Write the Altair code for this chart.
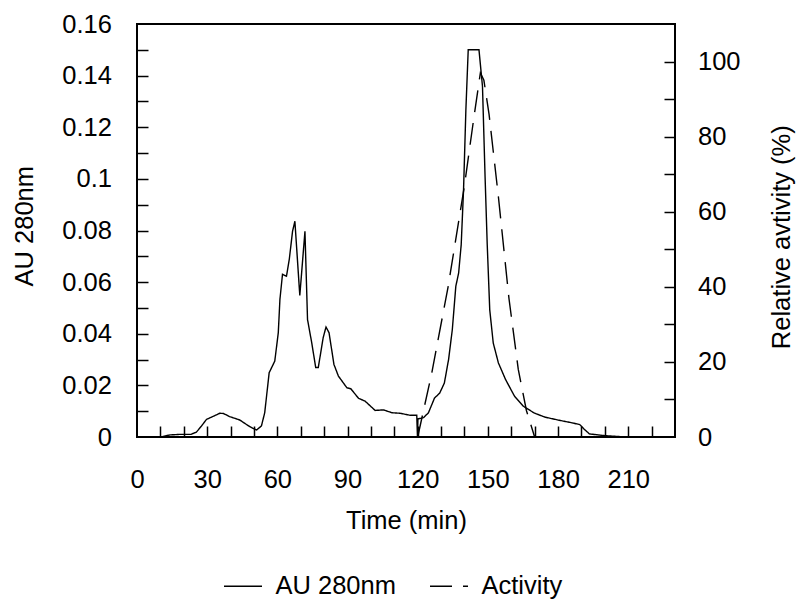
import altair as alt
import pandas as pd

# ---------------- data ----------------
au_time = [10, 14, 18, 23, 25.4, 27.6, 29.7, 32.8, 35.4, 37, 39.6, 43.9, 48.2, 51.1, 53.2,
           54.6, 56.5, 58.9, 60.4, 61.1, 62.2, 63.9, 65.1, 66.5, 67.5, 69.6, 71.8, 72.9,
           74.7, 76.4, 77.5, 79.6, 80.8, 82.1, 84.2, 86.1, 89.7, 91.4, 94.7, 97.5, 101.8,
           105.4, 109, 112.5, 116.8, 119.6, 119.9, 120.1, 122.5, 124.6, 127.2, 129.4,
           131.4, 133.2, 134.8, 136.3, 137.5, 138.6, 139.6, 140.6, 141.6, 146.2, 147.7,
           148.8, 149.7, 150.8, 152.3, 154.5, 157.6, 161.4, 165.2, 169.8, 174.4, 180.4,
           186.5, 189.3, 191.1, 193.4, 200.2, 209.4]
au_value = [0.0, 0.0008, 0.001, 0.001, 0.0019, 0.0043, 0.0068, 0.0081, 0.0092, 0.0091,
            0.0079, 0.0066, 0.0040, 0.0027, 0.0043, 0.0094, 0.0249, 0.0294, 0.0404, 0.0533,
            0.0630, 0.0623, 0.0688, 0.0797, 0.0836, 0.0548, 0.0797, 0.0455, 0.0365, 0.0269,
            0.0269, 0.0385, 0.0426, 0.0404, 0.0281, 0.0236, 0.0191, 0.0187, 0.0150, 0.0139,
            0.0103, 0.0105, 0.0094, 0.0092, 0.0084, 0.0084, 0.0, 0.0070, 0.0075, 0.0094,
            0.0151, 0.0170, 0.0209, 0.0300, 0.0416, 0.0584, 0.0635, 0.0745, 0.0958, 0.1268,
            0.150, 0.150, 0.1358, 0.101, 0.0752, 0.0493, 0.0364, 0.0287, 0.0222, 0.0158,
            0.0119, 0.0093, 0.0077, 0.0065, 0.0054, 0.0048, 0.0031, 0.0012, 0.0005, 0.0]

act_time = [120, 126, 133, 140, 144, 146.8, 148.3, 150.5, 154.5, 159, 163, 166.5, 170]
act_value = [0, 17, 40, 67, 85, 97, 95, 86, 64, 37, 18, 7, 0]

x_label_values = [0, 30, 60, 90, 120, 150, 180, 210]
x_tick_values = [10, 20, 30, 40, 50, 60, 70, 80, 90, 100, 110, 120, 130, 140, 150, 160,
                 170, 180, 190, 200, 210, 220]
au_label_values = [0, 0.02, 0.04, 0.06, 0.08, 0.1, 0.12, 0.14, 0.16]
au_tick_values = [0.01, 0.02, 0.03, 0.04, 0.05, 0.06, 0.07, 0.08, 0.09, 0.1, 0.11, 0.12,
                  0.13, 0.14, 0.15]
act_label_values = [0, 20, 40, 60, 80, 100]
act_tick_values = [10, 20, 30, 40, 50, 60, 70, 80, 90, 100]

series_names = ["AU 280nm", "Activity"]

# ---------------- layout ----------------
W, H = 538, 413
FONT = "Liberation Sans"
FS = 25.5

au_df = pd.DataFrame({"t": au_time, "v": au_value, "series": series_names[0]})
act_df = pd.DataFrame({"t": act_time, "a": act_value, "series": series_names[1]})

xs = alt.Scale(domain=[0, 230], nice=False, zero=False)
ys_au = alt.Scale(domain=[0, 0.16], nice=False, zero=False)
ys_act = alt.Scale(domain=[0, 110], nice=False, zero=False)

dash = alt.StrokeDash(
    "series:N",
    scale=alt.Scale(domain=series_names, range=[[1, 0], [22, 11]]),
    legend=alt.Legend(
        title=None, orient="none", legendX=86, legendY=542, direction="horizontal",
        symbolType="stroke", symbolSize=1444, symbolStrokeWidth=1.5,
        symbolStrokeColor="black", labelOffset=12.5, columnPadding=31, padding=0,
        labelFont=FONT, labelFontSize=FS, labelColor="black",
    ),
)

au_line = alt.Chart(au_df).mark_line(color="black", strokeWidth=1.4).encode(
    x=alt.X("t:Q", scale=xs, axis=alt.Axis(
        values=x_label_values, title="Time (min)", ticks=False, domain=False, grid=False,
        labelPadding=30, labelFlush=False, labelOverlap=False,
        titleY=91, titleBaseline="alphabetic")),
    y=alt.Y("v:Q", scale=ys_au, axis=alt.Axis(
        values=au_label_values, format="~g", title="AU 280nm", ticks=False, domain=False,
        grid=False, labelPadding=25.6, labelOverlap=False,
        titleAngle=270, titleX=-105, titleY=201.7, titleAlign="center",
        titleBaseline="alphabetic")),
    strokeDash=dash,
)

au_ticks = alt.Chart(au_df).mark_line(strokeOpacity=0).encode(
    x=alt.X("t:Q", scale=xs, axis=alt.Axis(
        orient="top", offset=-H, values=x_tick_values, labels=False, title=None,
        domain=False, grid=False, ticks=True, tickSize=11)),
    y=alt.Y("v:Q", scale=ys_au, axis=alt.Axis(
        orient="right", offset=-W, values=au_tick_values, labels=False, title=None,
        domain=False, grid=False, ticks=True, tickSize=11)),
)

act_line = alt.Chart(act_df).mark_line(color="black", strokeWidth=1.4).encode(
    x=alt.X("t:Q", scale=xs, axis=None),
    y=alt.Y("a:Q", scale=ys_act, axis=alt.Axis(
        orient="right", values=act_label_values, title="Relative avtivity (%)",
        ticks=False, domain=False, grid=False, labelPadding=22.5, labelOverlap=False,
        titleAngle=270, titleX=114, titleY=212.7, titleAlign="center",
        titleBaseline="alphabetic")),
    strokeDash=dash,
)

act_ticks = alt.Chart(act_df).mark_line(strokeOpacity=0).encode(
    x=alt.X("t:Q", scale=xs, axis=None),
    y=alt.Y("a:Q", scale=ys_act, axis=alt.Axis(
        orient="left", offset=-W, values=act_tick_values, labels=False, title=None,
        domain=False, grid=False, ticks=True, tickSize=11)),
)

chart = alt.layer(au_line, au_ticks, act_line, act_ticks).resolve_scale(
    y="independent"
).resolve_axis(
    x="independent", y="independent"
).properties(
    width=W, height=H,
    autosize=alt.AutoSizeParams(type="none"),
    padding={"left": 137, "top": 24, "right": 122, "bottom": 164},
    background="white",
).configure_axis(
    labelFont=FONT, labelFontSize=FS, labelColor="black",
    titleFont=FONT, titleFontSize=FS, titleFontWeight="normal", titleColor="black",
    tickColor="black", tickWidth=1.5,
).configure_view(
    stroke="black", strokeWidth=2,
)

chart.save("out.html", embed_options={"renderer": "svg", "actions": False})
